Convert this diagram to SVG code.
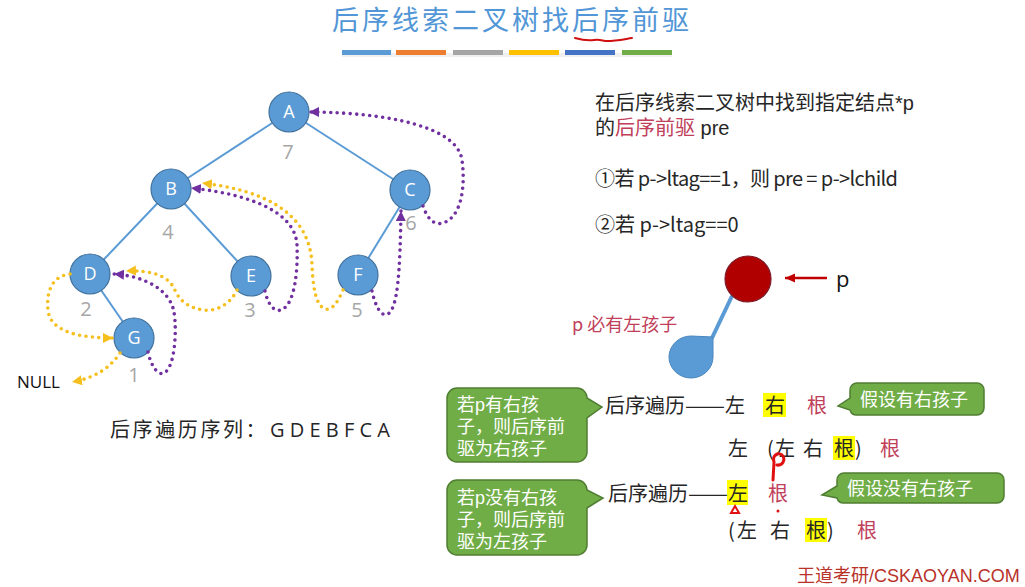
<svg xmlns="http://www.w3.org/2000/svg" width="1025" height="587" viewBox="0 0 1025 587">
<defs>
<style>
.cjk{font-family:"Noto Sans CJK SC","Noto Sans",sans-serif}
.mix{font-family:"Liberation Sans","Noto Sans CJK SC",sans-serif}
.lat{font-family:"Open Sans","Noto Sans",sans-serif}
.edge{stroke:#5b9bd5;stroke-width:2;fill:none}
.node circle{fill:#5b9bd5;stroke:#41719c;stroke-width:1.2}
.node text{fill:#fff;font-size:18px;text-anchor:middle;font-family:"Open Sans","Noto Sans",sans-serif}
.num{fill:#a6a6a6;font-size:20px;text-anchor:middle;font-family:"Open Sans","Noto Sans",sans-serif}
.pu{stroke:#7030a0;stroke-width:3.6;fill:none;stroke-dasharray:0 6.5;stroke-linecap:round;marker-end:url(#mp)}
.ye{stroke:#f5bf1d;stroke-width:3.6;fill:none;stroke-dasharray:0 6.5;stroke-linecap:round;marker-end:url(#my)}
.call{fill:#70ad47;stroke:#507e32;stroke-width:1.5}
.wt{fill:#fff;font-size:18px}
.bk{fill:#262626;font-size:20px}
.rd{fill:#c0405a}
.hl{fill:#ffff00}
</style>
<marker id="mp" markerUnits="userSpaceOnUse" markerWidth="12" markerHeight="12" refX="10" refY="5" orient="auto"><path d="M0,0 L10,5 L0,10 Z" fill="#7030a0"/></marker>
<marker id="my" markerUnits="userSpaceOnUse" markerWidth="12" markerHeight="12" refX="10" refY="5" orient="auto"><path d="M0,0 L10,5 L0,10 Z" fill="#f5bf1d"/></marker>
<marker id="mr" markerUnits="userSpaceOnUse" markerWidth="12" markerHeight="12" refX="10" refY="5" orient="auto"><path d="M0,0.5 L10,5 L0,9.5 Z" fill="#c00000"/></marker>
</defs>
<rect width="1025" height="587" fill="#ffffff"/>

<g id="title">
<text x="332" y="30" class="cjk" font-size="27" letter-spacing="3" fill="#5196d6">后序线索二叉树找后序前驱</text>
<path d="M575,38 C582,40 588,41 594,40 C600,39 603,41 607,41 C616,41 625,39 632,38" stroke="#d01010" stroke-width="2" fill="none" stroke-linecap="round"/>
<rect x="342" y="53" width="330" height="4" fill="#000" opacity="0.06"/>
<rect x="342" y="50" width="49" height="5" fill="#5b9bd5"/>
<rect x="396" y="50" width="50" height="5" fill="#ed7d31"/>
<rect x="453" y="50" width="50" height="5" fill="#a5a5a5"/>
<rect x="509" y="50" width="50" height="5" fill="#ffc000"/>
<rect x="565" y="50" width="50" height="5" fill="#4472c4"/>
<rect x="622" y="50" width="50" height="5" fill="#70ad47"/>
</g>

<g id="tree-edges">
<line class="edge" x1="289" y1="112" x2="171" y2="189"/>
<line class="edge" x1="289" y1="112" x2="410" y2="190"/>
<line class="edge" x1="171" y1="189" x2="90" y2="274"/>
<line class="edge" x1="171" y1="189" x2="251" y2="276"/>
<line class="edge" x1="410" y1="190" x2="358" y2="275"/>
<line class="edge" x1="90" y1="274" x2="134" y2="338"/>
</g>

<g id="node-A" class="node"><circle cx="289" cy="112" r="20"/><text x="289" y="118">A</text></g>
<g id="node-B" class="node"><circle cx="171" cy="189" r="20"/><text x="171" y="195">B</text></g>
<g id="node-C" class="node"><circle cx="410" cy="190" r="20"/><text x="410" y="196">C</text></g>
<g id="node-D" class="node"><circle cx="90" cy="274" r="20"/><text x="90" y="280">D</text></g>
<g id="node-E" class="node"><circle cx="251" cy="276" r="20"/><text x="251" y="282">E</text></g>
<g id="node-F" class="node"><circle cx="358" cy="275" r="20"/><text x="358" y="281">F</text></g>
<g id="node-G" class="node"><circle cx="134" cy="338" r="20"/><text x="134" y="344">G</text></g>

<g id="order-numbers">
<text class="num" x="288" y="159">7</text>
<text class="num" x="168" y="239">4</text>
<text class="num" x="411" y="230">6</text>
<text class="num" x="86" y="316">2</text>
<text class="num" x="250" y="317">3</text>
<text class="num" x="357" y="317">5</text>
<text class="num" x="134" y="382">1</text>
<text x="17" y="388" font-size="17" fill="#111" class="lat">NULL</text>
</g>

<g id="threads">
<path class="pu" d="M148,352 C151,366 158,376 164,373 C175,368 177,330 174,312 C170,290 145,276 114,274"/>
<path class="pu" d="M265,291 C268,305 275,314 283,309 C295,302 298,270 297,245 C295,205 230,192 191,188"/>
<path class="pu" d="M372,291 C375,305 381,318 388,314 C398,308 400,270 401,211"/>
<path class="pu" d="M423,206 C427,218 434,226 443,223 C460,218 466,190 462,160 C456,120 360,112 309,112"/>
<path class="ye" d="M70,274 C52,276 46,292 48,310 C50,332 80,338 113,338"/>
<path class="ye" d="M120,353 C110,368 95,378 72,382"/>
<path class="ye" d="M237,290 C230,305 215,312 203,310 C185,307 178,298 174,288 C167,275 150,270 126,271"/>
<path class="ye" d="M343,290 C338,302 332,311 325,309 C315,305 313,285 312,265 C310,210 260,190 202,183"/>
</g>

<g id="sequence">
<text x="110" y="437" class="cjk bk" letter-spacing="2.6">后序遍历序列：</text>
<text x="270" y="437" class="lat bk" textLength="120" lengthAdjust="spacing">G D E B F C A</text>
</g>

<g id="rules" font-size="20" fill="#262626">
<text x="595" y="110" class="mix">在后序线索二叉树中找到指定结点*p</text>
<text x="595" y="135" class="mix">的<tspan class="rd">后序前驱</tspan> pre</text>
<text x="595" y="186" class="cjk" textLength="303" lengthAdjust="spacing">①若 p-&gt;ltag==1，则 pre = p-&gt;lchild</text>
<text x="595" y="232" class="cjk">②若 p-&gt;ltag==0</text>
</g>

<g id="p-node">
<line x1="732" y1="296" x2="712" y2="338" stroke="#5b9bd5" stroke-width="4"/>
<path d="M713,337 L713,357 A22,21 0 1 1 691,336 Z" fill="#5b9bd5" stroke="#4a86bf" stroke-width="1"/>
<circle cx="748" cy="279" r="23" fill="#b00000" stroke="#7d1a2a" stroke-width="1.2"/>
<line x1="827" y1="278" x2="785" y2="278" stroke="#c00000" stroke-width="2.5" marker-end="url(#mr)"/>
<text x="836" y="287" class="lat" font-size="22" fill="#111">p</text>
<text x="572" y="331" class="cjk rd" font-size="18">p 必有左孩子</text>
</g>

<g id="callout-1">
<path class="call" d="M457,388 H577 A10,10 0 0 1 587,398 L602,407 L587,418 V452 A10,10 0 0 1 577,462 H457 A10,10 0 0 1 447,452 V398 A10,10 0 0 1 457,388 Z"/>
<text class="mix wt" x="457" y="411">若p有右孩</text>
<text class="mix wt" x="457" y="433">子，则后序前</text>
<text class="mix wt" x="457" y="455">驱为右孩子</text>
</g>
<g id="callout-2">
<path class="call" d="M457,480 H577 A10,10 0 0 1 587,490 L603,498 L587,508 V545 A10,10 0 0 1 577,555 H457 A10,10 0 0 1 447,545 V490 A10,10 0 0 1 457,480 Z"/>
<text class="mix wt" x="457" y="504">若p没有右孩</text>
<text class="mix wt" x="457" y="526">子，则后序前</text>
<text class="mix wt" x="457" y="548">驱为左孩子</text>
</g>
<g id="callout-3">
<path class="call" d="M857,383 H977 A7,7 0 0 1 984,390 V408 A7,7 0 0 1 977,415 H857 A7,7 0 0 1 850,410 L838,406 L850,398 V390 A7,7 0 0 1 857,383 Z"/>
<text class="cjk wt" x="860" y="406">假设有右孩子</text>
</g>
<g id="callout-4">
<path class="call" d="M844,473 H997 A7,7 0 0 1 1004,480 V496 A7,7 0 0 1 997,503 H844 A7,7 0 0 1 837,498 L822,495 L837,486 V480 A7,7 0 0 1 844,473 Z"/>
<text class="cjk wt" x="847" y="495">假设没有右孩子</text>
</g>

<g id="traversal" class="cjk" font-size="20" fill="#262626">
<rect class="hl" x="763" y="393" width="23" height="24"/>
<text x="605" y="413">后序遍历</text>
<text x="685" y="413" textLength="40" lengthAdjust="spacingAndGlyphs">——</text>
<text x="725" y="413">左</text>
<text x="765" y="413">右</text>
<text x="807" y="413" class="rd">根</text>

<rect class="hl" x="833" y="436" width="22" height="24"/>
<text x="728" y="456">左</text>
<text x="767" y="456">(</text>
<text x="775" y="456">左</text>
<text x="803" y="456">右</text>
<text x="834" y="456">根</text>
<text x="855" y="456">)</text>
<text x="880" y="456" class="rd">根</text>

<rect class="hl" x="727" y="480" width="21" height="25"/>
<text x="608" y="501">后序遍历</text>
<text x="688" y="501" textLength="40" lengthAdjust="spacingAndGlyphs">——</text>
<text x="728" y="501">左</text>
<text x="768" y="501" class="rd">根</text>

<rect class="hl" x="805" y="518" width="22" height="24"/>
<text x="728" y="538">(</text>
<text x="737" y="538">左</text>
<text x="770" y="538">右</text>
<text x="806" y="538">根</text>
<text x="827" y="538">)</text>
<text x="857" y="538" class="rd">根</text>
</g>

<g id="handwriting" stroke="#e01010" stroke-width="3" fill="none" stroke-linecap="round">
<path d="M774,462 C772,455 778,452 782,455 C786,459 783,466 777,465 M774,462 L773,480"/>
<circle cx="778" cy="511" r="1.5" fill="#e01010" stroke="none"/>
<path d="M731,513 L735,506 L739,513 Z" stroke-width="2"/>
</g>

<text x="797" y="582" font-family="Liberation Sans,'Noto Sans CJK SC',sans-serif" font-size="18" fill="#b8322a">王道考研/CSKAOYAN.COM</text>
</svg>
